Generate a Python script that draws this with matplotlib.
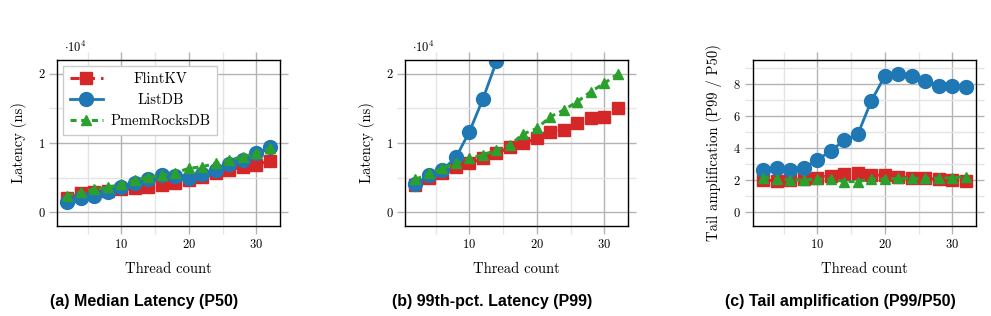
import numpy as np
import matplotlib
matplotlib.use('Agg')
import matplotlib.pyplot as plt
from matplotlib.ticker import MultipleLocator, FuncFormatter

plt.rcParams['font.family'] = 'cmr10'
plt.rcParams['mathtext.fontset'] = 'cm'
plt.rcParams['axes.formatter.use_mathtext'] = True

threads = [2, 4, 6, 8, 10, 12, 14, 16, 18, 20, 22, 24, 26, 28, 30, 32]

# (a) median latency, ns
p50_flint = [2000, 2700, 2940, 3090, 3280, 3430, 3670, 3910, 4150, 4640, 5120, 5600, 6090, 6570, 6810, 7430]
p50_listdb = [1450, 1980, 2360, 2940, 3670, 4250, 4730, 5400, 5200, 4900, 5500, 6090, 6910, 7540, 8500, 9400]
p50_pmem = [2370, 2940, 3330, 3570, 4010, 4640, 5020, 5360, 5700, 6330, 6570, 7050, 7540, 8020, 8500, 9230]

# (b) 99th percentile latency, ns (ListDB only up to 14 threads)
p99_flint = [3910, 4880, 5700, 6470, 7050, 7780, 8500, 9370, 9950, 10680, 11640, 11880, 12850, 13580, 13810, 15020]
p99_listdb = [4010, 5360, 6090, 7920, 11640, 16380, 21790]
p99_pmem = [4730, 5600, 6330, 7050, 7780, 8260, 8990, 9710, 11300, 12120, 13810, 14780, 15990, 17440, 18650, 20000]

# (c) tail amplification P99/P50
amp_flint = [2.0, 1.94, 2.0, 2.05, 2.15, 2.27, 2.4, 2.42, 2.3, 2.3, 2.2, 2.15, 2.1, 2.05, 2.0, 1.94]
amp_listdb = [2.62, 2.77, 2.62, 2.77, 3.25, 3.83, 4.48, 4.87, 6.96, 8.5, 8.62, 8.5, 8.21, 7.88, 7.9, 7.79]
amp_pmem = [2.15, 2.08, 2.0, 2.0, 2.06, 2.05, 1.9, 1.9, 2.06, 2.05, 2.1, 2.1, 2.1, 2.1, 2.15, 2.2]

names = ['FlintKV', 'ListDB', 'PmemRocksDB']
captions = ['(a) Median Latency (P50)', '(b) 99th-pct. Latency (P99)',
            '(c) Tail amplification (P99/P50)']

red = '#d62728'
blue = '#1f77b4'
green = '#2ca02c'

fig = plt.figure(figsize=(9.91, 3.16), dpi=100)
lefts = [0.0578, 0.409, 0.7601]
cap_x = [0.1453, 0.4965, 0.8476]
axs = [fig.add_axes([l, 0.285, 0.2248, 0.525]) for l in lefts]


def draw(ax, fl, li, pm):
    ax.plot(threads, fl, color=red, ls=(0, (3, 2)), lw=2.2, marker='s', ms=8.5, label=names[0])
    ax.plot(threads[:len(li)], li, color=blue, ls='-', lw=2, marker='o', ms=10, label=names[1])
    ax.plot(threads, pm, color=green, ls=(0, (2, 1.5)), lw=2.2, marker='^', ms=7.5, label=names[2])


draw(axs[0], p50_flint, p50_listdb, p50_pmem)
draw(axs[1], p99_flint, p99_listdb, p99_pmem)
draw(axs[2], amp_flint, amp_listdb, amp_pmem)

for i, ax in enumerate(axs):
    ax.set_xlim(0.5, 33.5)
    ax.xaxis.set_major_locator(MultipleLocator(10))
    ax.xaxis.set_minor_locator(MultipleLocator(5))
    ax.grid(True, which='major', color='#b4b4b4', lw=1)
    ax.grid(True, which='minor', color='#e4e4e4', lw=1)
    ax.set_axisbelow(True)
    ax.tick_params(which='both', direction='out', top=True, right=True,
                   labelsize=9, pad=3)
    ax.tick_params(which='major', length=6, color='#b4b4b4', width=1)
    ax.tick_params(which='minor', length=6, color='#e4e4e4', width=1)
    ax.set_xlabel('Thread count', fontsize=10.5, labelpad=8)
    for s in ax.spines.values():
        s.set_linewidth(1)
    fig.text(cap_x[i], 0.045, captions[i], ha='center', va='center',
             fontsize=11.5, fontweight='bold',
             family=['Liberation Sans', 'DejaVu Sans'])

for ax in axs[:2]:
    ax.set_ylim(-2000, 22000)
    ax.yaxis.set_major_locator(MultipleLocator(10000))
    ax.yaxis.set_minor_locator(MultipleLocator(5000))
    ax.yaxis.set_major_formatter(FuncFormatter(lambda v, p: '%g' % (v / 1e4)))
    ax.set_ylabel('Latency (ns)', fontsize=10.5, labelpad=8)
    ax.text(0.03, 1.03, r'$\cdot 10^4$', transform=ax.transAxes, fontsize=9, va='bottom')

axs[2].set_ylim(-0.875, 9.5)
axs[2].yaxis.set_major_locator(MultipleLocator(2))
axs[2].yaxis.set_minor_locator(MultipleLocator(1))
axs[2].set_ylabel('Tail amplification (P99 / P50)', fontsize=10.5, labelpad=8)

leg = axs[0].legend(loc='upper left', fontsize=10.5, framealpha=1, edgecolor='#cccccc',
                    fancybox=False, handlelength=2.3, borderpad=0.45, labelspacing=0.5,
                    handletextpad=0.5, borderaxespad=0.4)
leg.get_frame().set_linewidth(1)

# centre the legend labels in their column, like the original
fig.canvas.draw()
widths = [t.get_window_extent().width for t in leg.get_texts()]
for t, w in zip(leg.get_texts(), widths):
    t.set_position(((max(widths) - w) / 2, 0))

fig.savefig('out.png', dpi=100)
